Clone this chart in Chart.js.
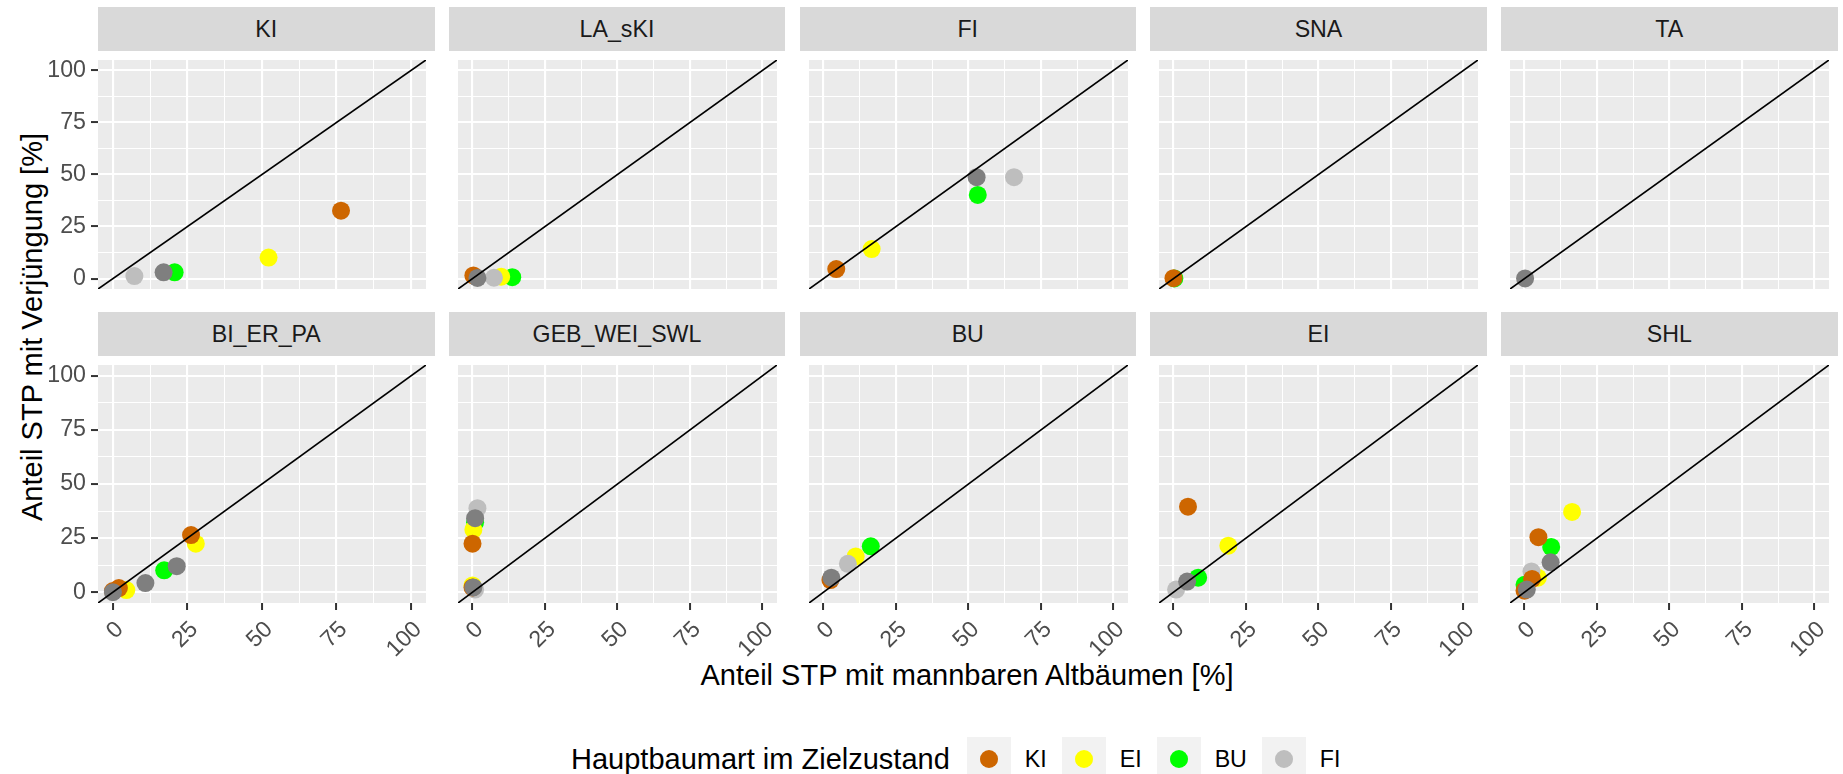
<!DOCTYPE html>
<html>
<head>
<meta charset="utf-8">
<script src="https://cdn.jsdelivr.net/npm/chart.js@4.4.1/dist/chart.umd.min.js"></script>
<style>
  body { margin: 0; width: 1843px; height: 774px; background: #fff; position: relative; overflow: hidden;
         font-family: "Liberation Sans", Arial, sans-serif; }
  canvas { position: absolute; }
  .strip { position: absolute; background: #d9d9d9; color: #1a1a1a; font-size: 23.2px;
           display: flex; align-items: center; justify-content: center; }
  .title { position: absolute; font-size: 29px; color: #000; white-space: nowrap; }
  #ytitle { left: 32px; top: 327px; transform: translate(-50%, -50%) rotate(-90deg); }
  #xtitle { left: 967px; top: 675px; transform: translate(-50%, -50%); }
  #legend { position: absolute; left: 571px; top: 737px; height: 44px; display: flex; align-items: center; }
  #legend .ltitle { font-size: 29px; margin-right: 17px; }
  #legend .key { width: 44px; height: 44px; background: #f2f2f2; display: flex; align-items: center; justify-content: center; }
  #legend .dot { width: 18px; height: 18px; border-radius: 50%; }
  #legend .lab { font-size: 23.2px; margin-left: 14px; margin-right: 15px; }
</style>
</head>
<body>
<div id="ytitle" class="title">Anteil STP mit Verjüngung [%]</div>
<div id="xtitle" class="title">Anteil STP mit mannbaren Altbäumen [%]</div>
<div id="legend"><span class="ltitle">Hauptbaumart im Zielzustand</span></div>
<script>
// facets (Hauptbaumart aktuell) and legend categories (Zielzustand)
const facetNames = ['KI', 'LA_sKI', 'FI', 'SNA', 'TA', 'BI_ER_PA', 'GEB_WEI_SWL', 'BU', 'EI', 'SHL'];
const speciesNames = ['KI', 'EI', 'BU', 'FI'];
const speciesColors = ['#CD6600', '#FFFF00', '#00FF00', '#BEBEBE'];
const naColor = '#7F7F7F';

// points as [facet index, x = Altbäume %, y = Verjüngung %]
const kiPoints = [[0, 76.5, 32.6], [1, 0.3, 1.5], [2, 4.4, 4.6], [3, 0, 0.2], [5, 26.2, 26.4], [5, 2.0, 1.9],
  [5, 0, 0.5], [6, 0, 22.4], [6, 0, 2.2], [7, 2.4, 5.6], [8, 5.0, 39.5], [9, 4.8, 25.4], [9, 2.6, 6.1], [9, 0, 0.7]];
const eiPoints = [[0, 52.2, 10.1], [1, 9.9, 0.9], [2, 16.6, 14.2], [5, 27.8, 22.4], [5, 4.5, 1.0], [6, 0.3, 28.9],
  [6, 0, 3.1], [7, 11.1, 16.5], [8, 18.9, 21.5], [9, 16.4, 37.1], [9, 4.6, 6.7]];
const buPoints = [[0, 20.7, 3.0], [1, 13.7, 0.7], [2, 53.2, 40.2], [3, 0.3, 0.1], [5, 17.2, 10.1], [6, 0.9, 32.3],
  [7, 16.3, 21.2], [8, 8.5, 6.7], [9, 9.2, 20.9], [9, 0, 3.4]];
const fiPoints = [[0, 7.2, 1.2], [1, 7.4, 0.4], [2, 65.7, 48.7], [6, 1.7, 38.8], [6, 0.9, 1.2], [7, 8.4, 13.1],
  [8, 0.9, 1.2], [9, 2.4, 9.6]];
const naPoints = [[0, 17.0, 3.0], [1, 1.7, 0.3], [2, 52.8, 48.7], [4, 0.2, 0.1], [5, 21.4, 12.0], [5, 10.9, 4.2],
  [5, 0, 0], [6, 0.9, 34.2], [6, 0.3, 2.2], [7, 2.7, 6.7], [8, 4.7, 4.9], [9, 9.0, 13.8], [9, 0.8, 1.2]];

const tickValues = [0, 25, 50, 75, 100];
const gridValues = [0, 12.5, 25, 37.5, 50, 62.5, 75, 87.5, 100];
const axisMin = -5;
const axisMax = 105;

// layout (px)
const panelLeft0 = 98, panelStep = 350.75, panelW = 336.5;
const stripTops = [7, 312], stripH = 44, panelH = 247;
const yAxisW = 66, xAxisH = 64;
const fontFamily = '"Liberation Sans", Arial, sans-serif';

// drawing order: first dataset ends up on top
const series = [
  { name: 'NA', points: naPoints, color: naColor },
  { name: 'KI', points: kiPoints, color: speciesColors[0] },
  { name: 'FI', points: fiPoints, color: speciesColors[3] },
  { name: 'EI', points: eiPoints, color: speciesColors[1] },
  { name: 'BU', points: buPoints, color: speciesColors[2] }
];

const panelBg = {
  id: 'panelBg',
  beforeDraw(chart) {
    const { ctx, chartArea: a } = chart;
    ctx.save();
    ctx.fillStyle = '#EBEBEB';
    ctx.fillRect(a.left, a.top, a.right - a.left, a.bottom - a.top);
    ctx.restore();
  }
};

function isMajor(c) {
  return c.tick && tickValues.includes(c.tick.value);
}

function makeAxis(show, size, horizontal) {
  return {
    type: 'linear',
    min: axisMin,
    max: axisMax,
    border: { display: false },
    grid: {
      color: '#FFFFFF',
      lineWidth: c => isMajor(c) ? 2.1 : 1.05,
      drawTicks: show,
      tickLength: 7,
      tickWidth: 2,
      tickColor: c => isMajor(c) ? '#333333' : 'rgba(0,0,0,0)'
    },
    afterBuildTicks: s => { s.ticks = gridValues.map(v => ({ value: v })); },
    ticks: {
      display: show,
      autoSkip: false,
      color: '#4D4D4D',
      padding: horizontal ? 6 : 5,
      labelOffset: horizontal ? 7 : 0,
      font: { family: fontFamily, size: 23.2 },
      maxRotation: horizontal ? 45 : 0,
      minRotation: horizontal ? 45 : 0,
      callback: v => tickValues.includes(v) ? String(v) : ''
    },
    afterFit: s => {
      if (horizontal) s.height = size; else s.width = size;
      s.paddingLeft = 0; s.paddingRight = 0; s.paddingTop = 0; s.paddingBottom = 0;
    }
  };
}

facetNames.forEach((facet, i) => {
  const col = i % 5;
  const row = Math.floor(i / 5);
  const left = panelLeft0 + col * panelStep;
  const stripTop = stripTops[row];
  const top = stripTop + stripH;

  const strip = document.createElement('div');
  strip.className = 'strip';
  strip.style.left = left + 'px';
  strip.style.top = stripTop + 'px';
  strip.style.width = panelW + 'px';
  strip.style.height = stripH + 'px';
  strip.textContent = facet;
  document.body.appendChild(strip);

  const showY = col === 0;
  const showX = row === 1;
  const extraL = showY ? yAxisW : 0;
  const extraB = showX ? xAxisH : 0;

  const canvas = document.createElement('canvas');
  canvas.width = Math.round(panelW + extraL);
  canvas.height = Math.round(panelH + extraB);
  canvas.style.left = (left - extraL) + 'px';
  canvas.style.top = top + 'px';
  document.body.appendChild(canvas);

  const datasets = [{
    label: 'y = x',
    data: [{ x: axisMin, y: axisMin }, { x: axisMax, y: axisMax }],
    showLine: true,
    borderColor: '#000000',
    borderWidth: 1.7,
    pointRadius: 0
  }];
  series.forEach(s => {
    datasets.push({
      label: s.name,
      data: s.points.filter(p => p[0] === i).map(p => ({ x: p[1], y: p[2] })),
      backgroundColor: s.color,
      borderWidth: 0,
      pointRadius: 9
    });
  });

  new Chart(canvas.getContext('2d'), {
    type: 'scatter',
    data: { datasets: datasets },
    options: {
      responsive: false,
      animation: false,
      events: [],
      devicePixelRatio: 1,
      layout: { padding: 0 },
      plugins: { legend: { display: false }, tooltip: { enabled: false } },
      scales: {
        x: makeAxis(showX, extraB, true),
        y: makeAxis(showY, extraL, false)
      }
    },
    plugins: [panelBg]
  });
});

// legend
const legend = document.getElementById('legend');
speciesNames.forEach((name, k) => {
  const key = document.createElement('span');
  key.className = 'key';
  const dot = document.createElement('span');
  dot.className = 'dot';
  dot.style.background = speciesColors[k];
  key.appendChild(dot);
  const lab = document.createElement('span');
  lab.className = 'lab';
  lab.textContent = name;
  legend.appendChild(key);
  legend.appendChild(lab);
});
</script>
</body>
</html>
